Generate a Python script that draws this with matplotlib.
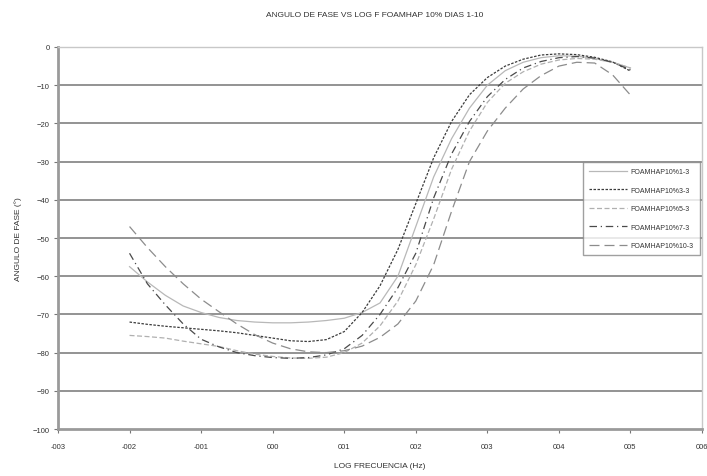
import numpy as np
import matplotlib
matplotlib.use('Agg')
import matplotlib.pyplot as plt

plt.rcParams['font.family'] = ['Liberation Sans Narrow', 'Liberation Sans', 'DejaVu Sans']

# log frequency values shared by all series
log_f = [-2, -1.75, -1.5, -1.25, -1, -0.75, -0.5, -0.25, 0, 0.25, 0.5, 0.75, 1, 1.25, 1.5,
         1.75, 2, 2.25, 2.5, 2.75, 3, 3.25, 3.5, 3.75, 4, 4.25, 4.5, 4.75, 5]

fase_1 = [-57.5, -61.5, -65, -67.8, -69.5, -70.8, -71.6, -72.0, -72.2, -72.2, -72.0, -71.6, -71,
          -69.5, -67, -60, -47, -34, -24, -16, -10, -6.2, -4, -2.8, -2.3, -2.4, -3, -4, -5.5]
fase_3 = [-72, -72.6, -73.1, -73.5, -73.9, -74.3, -74.8, -75.5, -76.2, -76.9, -77.1, -76.6, -74.5,
          -69.5, -62.5, -53, -41, -29, -19.5, -12.5, -8, -5, -3.2, -2.1, -1.8, -2.0, -2.7, -3.9, -6.3]
fase_5 = [-75.5, -75.8, -76.2, -77, -77.7, -78.4, -79.5, -80.4, -81, -81.4, -81.5, -81.2, -80,
          -77.5, -73, -66.5, -57, -45, -32, -22, -14.5, -9.5, -6.5, -4.5, -3.4, -3.0, -3.2, -4, -5.5]
fase_7 = [-54, -62, -67.5, -72.5, -76.5, -78.5, -80, -80.8, -81.3, -81.5, -81.3, -80.6, -79,
          -75.5, -70, -63, -54, -39.5, -28, -19.5, -13, -8.5, -5.5, -3.8, -2.8, -2.5, -2.9, -4, -6]
fase_10 = [-47, -52.5, -57.5, -62, -66, -69.3, -72.5, -75.3, -77.5, -79, -79.8, -80, -79.5,
           -78.3, -76, -72.5, -66.5, -57, -43, -30, -22, -16, -11, -7.5, -5, -4, -4.2, -7.3, -12.6]

series = [
    ('FOAMHAP10%1-3', fase_1, '#b8b8b8', '-'),
    ('FOAMHAP10%3-3', fase_3, '#3c3c3c', (0, (2, 1.2))),
    ('FOAMHAP10%5-3', fase_5, '#b0b0b0', (0, (4, 2))),
    ('FOAMHAP10%7-3', fase_7, '#4a4a4a', (0, (6, 3, 1, 3))),
    ('FOAMHAP10%10-3', fase_10, '#8c8c8c', (0, (8, 4))),
]

xticks = [-3, -2, -1, 0, 1, 2, 3, 4, 5, 6]
xticklabels = ['-003', '-002', '-001', '000', '001', '002', '003', '004', '005', '006']
yticks = [0, -10, -20, -30, -40, -50, -60, -70, -80, -90, -100]

txt = '#333333'

fig = plt.figure(figsize=(7.07, 4.77), dpi=100)
ax = fig.add_axes([0.082, 0.0985, 0.911, 0.8009])

for yv in yticks[1:-1]:
    ax.axhline(yv, color='#8a8a8a', lw=1.3, zorder=1)

for label, y, col, ls in series:
    ax.plot(log_f, y, color=col, linestyle=ls, lw=0.9, label=label, zorder=3)

ax.set_xlim(-3, 6)
ax.set_ylim(-100, 0)
ax.set_xticks(xticks)
ax.set_xticklabels(xticklabels)
ax.set_yticks(yticks)
ax.tick_params(labelsize=5.5, length=3, width=0.8, color='#777777', labelcolor=txt)
ax.tick_params(axis='x', pad=7)
ax.tick_params(axis='y', pad=3)

for s in ['left', 'bottom']:
    ax.spines[s].set_color('#9a9a9a')
    ax.spines[s].set_linewidth(2)
for s in ['top', 'right']:
    ax.spines[s].set_color('#c8c8c8')
    ax.spines[s].set_linewidth(1)

ax.set_xlabel('LOG FRECUENCIA (Hz)', fontsize=6, labelpad=9, color=txt)
ax.set_ylabel('ANGULO DE FASE (°)', fontsize=6, labelpad=8, color=txt)
fig.text(0.53, 0.965, 'ANGULO DE FASE VS LOG F FOAMHAP 10% DIAS 1-10', fontsize=6,
         ha='center', color=txt)

leg = ax.legend(loc='upper left', bbox_to_anchor=(583 / 707, 1 - 163 / 477),
                bbox_transform=fig.transFigure, fontsize=5, frameon=True, fancybox=False,
                handlelength=5.5, labelspacing=1.65, borderpad=0.9, handletextpad=0.4,
                borderaxespad=0)
for t in leg.get_texts():
    t.set_color(txt)
leg.get_frame().set_edgecolor('#888888')
leg.get_frame().set_linewidth(1)
leg.set_zorder(5)

plt.savefig('out.png', dpi=100)
